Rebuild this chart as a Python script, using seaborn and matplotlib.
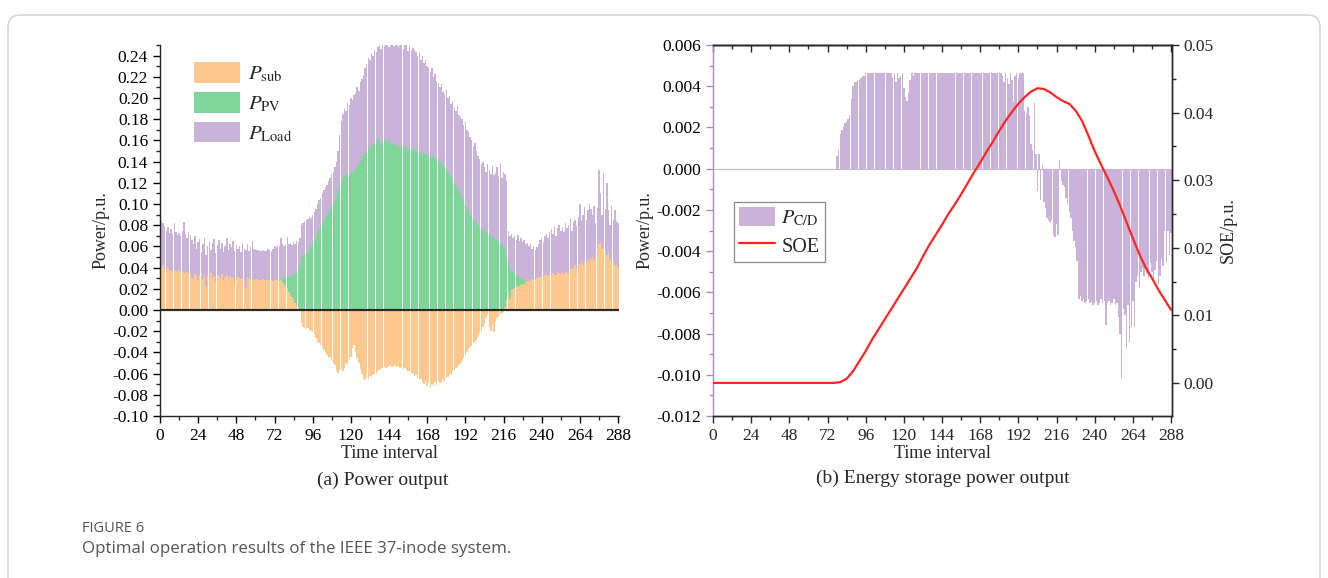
import numpy as np
import pandas as pd
import matplotlib
matplotlib.use("Agg")
import matplotlib.pyplot as plt
import seaborn as sns
from matplotlib.patches import Patch, FancyBboxPatch
from matplotlib.lines import Line2D
from matplotlib.ticker import MultipleLocator, FormatStrFormatter

# ---------------- data ----------------
intervals = list(range(1, 289))

p_load = [
    0.084, 0.082, 0.079, 0.075, 0.078, 0.073, 0.076, 0.072, 0.082, 0.074, 0.071, 0.073,
    0.070, 0.075, 0.083, 0.072, 0.068, 0.074, 0.071, 0.066, 0.062, 0.070, 0.058, 0.064,
    0.067, 0.055, 0.062, 0.068, 0.052, 0.060, 0.065, 0.057, 0.063, 0.067, 0.054, 0.061,
    0.066, 0.058, 0.063, 0.055, 0.060, 0.068, 0.057, 0.062, 0.059, 0.065, 0.056, 0.061,
    0.058, 0.060, 0.055, 0.063, 0.058, 0.057, 0.062, 0.056, 0.059, 0.065, 0.058, 0.057,
    0.057, 0.057, 0.056, 0.056, 0.057, 0.056, 0.056, 0.058, 0.057, 0.056, 0.058, 0.060,
    0.059, 0.061, 0.060, 0.068, 0.062, 0.060, 0.061, 0.069, 0.062, 0.063, 0.061, 0.064,
    0.062, 0.065, 0.064, 0.068, 0.080, 0.082, 0.084, 0.085, 0.086, 0.088, 0.087, 0.090,
    0.092, 0.095, 0.100, 0.104, 0.106, 0.110, 0.113, 0.116, 0.118, 0.122, 0.125, 0.128,
    0.130, 0.135, 0.140, 0.150, 0.165, 0.178, 0.185, 0.190, 0.188, 0.195, 0.193, 0.200,
    0.198, 0.203, 0.205, 0.210, 0.207, 0.215, 0.218, 0.222, 0.228, 0.232, 0.238, 0.236,
    0.242, 0.240, 0.245, 0.243, 0.248, 0.250, 0.246, 0.250, 0.249, 0.250, 0.250, 0.248,
    0.250, 0.250, 0.249, 0.250, 0.250, 0.248, 0.250, 0.250, 0.246, 0.250, 0.250, 0.244,
    0.250, 0.245, 0.247, 0.245, 0.243, 0.240, 0.242, 0.236, 0.240, 0.233, 0.236, 0.230,
    0.228, 0.225, 0.228, 0.220, 0.223, 0.216, 0.214, 0.210, 0.213, 0.206, 0.204, 0.208,
    0.200, 0.202, 0.194, 0.197, 0.191, 0.188, 0.192, 0.184, 0.182, 0.180, 0.175, 0.177,
    0.170, 0.168, 0.163, 0.160, 0.155, 0.158, 0.150, 0.145, 0.142, 0.138, 0.140, 0.135,
    0.130, 0.138, 0.132, 0.128, 0.136, 0.127, 0.129, 0.135, 0.126, 0.138, 0.125, 0.130,
    0.128, 0.122, 0.075, 0.070, 0.072, 0.068, 0.070, 0.066, 0.071, 0.065, 0.068, 0.064,
    0.066, 0.062, 0.063, 0.060, 0.062, 0.058, 0.060, 0.057, 0.059, 0.062, 0.066, 0.068,
    0.064, 0.070, 0.072, 0.068, 0.074, 0.076, 0.072, 0.078, 0.070, 0.077, 0.080, 0.075,
    0.078, 0.074, 0.082, 0.077, 0.080, 0.087, 0.075, 0.083, 0.085, 0.079, 0.088, 0.100,
    0.084, 0.090, 0.097, 0.085, 0.094, 0.100, 0.095, 0.090, 0.098, 0.082, 0.096, 0.132,
    0.110, 0.090, 0.129, 0.095, 0.120, 0.094, 0.080, 0.098, 0.085, 0.094, 0.084, 0.082,
]

p_pv = [0.0] * 70 + [
    0.008, 0.014, 0.020, 0.025,
    0.028, 0.030, 0.029, 0.031, 0.030, 0.032, 0.031, 0.033, 0.032, 0.034, 0.035, 0.036,
    0.038, 0.042, 0.050, 0.052, 0.053, 0.054, 0.055, 0.058, 0.060, 0.064, 0.066, 0.070,
    0.073, 0.076, 0.079, 0.082, 0.085, 0.088, 0.090, 0.093, 0.095, 0.098, 0.100, 0.103,
    0.108, 0.113, 0.118, 0.122, 0.125, 0.126, 0.127, 0.128, 0.126, 0.129, 0.128, 0.131,
    0.133, 0.136, 0.138, 0.140, 0.143, 0.146, 0.148, 0.150, 0.152, 0.154, 0.156, 0.157,
    0.158, 0.160, 0.162, 0.158, 0.156, 0.160, 0.161, 0.159, 0.158, 0.160, 0.158, 0.157,
    0.156, 0.157, 0.155, 0.156, 0.154, 0.155, 0.153, 0.155, 0.154, 0.152, 0.153, 0.151,
    0.152, 0.150, 0.151, 0.149, 0.150, 0.148, 0.149, 0.147, 0.146, 0.147, 0.145, 0.146,
    0.144, 0.145, 0.143, 0.142, 0.140, 0.141, 0.138, 0.137, 0.135, 0.133, 0.130, 0.128,
    0.126, 0.122, 0.120, 0.118, 0.115, 0.112, 0.110, 0.106, 0.104, 0.100, 0.097, 0.094,
    0.090, 0.088, 0.086, 0.084, 0.082, 0.080, 0.078, 0.077, 0.076, 0.075, 0.074, 0.073,
    0.072, 0.070, 0.069, 0.068, 0.067, 0.066, 0.064, 0.063, 0.062, 0.060, 0.058, 0.050,
    0.045, 0.040, 0.038, 0.036, 0.035, 0.033, 0.032, 0.031, 0.030, 0.029, 0.028, 0.027,
    0.026, 0.024, 0.020, 0.015, 0.010, 0.005,
] + [0.0] * 52

p_sub = [
    0.040, 0.042, 0.039, 0.038, 0.040, 0.037, 0.038, 0.036, 0.039, 0.037, 0.036, 0.038,
    0.036, 0.037, 0.035, 0.037, 0.036, 0.034, 0.035, 0.030, 0.027, 0.034, 0.032, 0.028,
    0.033, 0.035, 0.029, 0.034, 0.022, 0.033, 0.031, 0.035, 0.030, 0.032, 0.026, 0.033,
    0.032, 0.030, 0.034, 0.027, 0.031, 0.033, 0.029, 0.032, 0.030, 0.031, 0.024, 0.031,
    0.031, 0.030, 0.029, 0.030, 0.030, 0.021, 0.031, 0.029, 0.030, 0.029, 0.029, 0.028,
    0.029, 0.028, 0.028, 0.028, 0.029, 0.028, 0.028, 0.028, 0.028, 0.028, 0.027, 0.028,
    0.028, 0.028, 0.027, 0.028, 0.026, 0.025, 0.023, 0.020, 0.017, 0.014, 0.012, 0.009,
    0.007, 0.005, 0.003, 0.001, -0.012, -0.016, -0.017, -0.018, -0.017, -0.019, -0.020, -0.021,
    -0.023, -0.026, -0.030, -0.031, -0.033, -0.036, -0.038, -0.040, -0.042, -0.045, -0.044, -0.048,
    -0.050, -0.052, -0.058, -0.059, -0.057, -0.056, -0.058, -0.055, -0.050, -0.052, -0.047, -0.044,
    -0.036, -0.033, -0.040, -0.045, -0.050, -0.056, -0.060, -0.064, -0.066, -0.063, -0.065, -0.062,
    -0.063, -0.061, -0.060, -0.060, -0.058, -0.057, -0.056, -0.055, -0.054, -0.055, -0.054, -0.053,
    -0.052, -0.054, -0.053, -0.052, -0.054, -0.053, -0.055, -0.054, -0.056, -0.055, -0.057, -0.058,
    -0.058, -0.060, -0.059, -0.062, -0.061, -0.064, -0.066, -0.065, -0.068, -0.070, -0.067, -0.072,
    -0.069, -0.074, -0.070, -0.072, -0.068, -0.071, -0.067, -0.069, -0.068, -0.066, -0.067, -0.064,
    -0.063, -0.061, -0.060, -0.058, -0.057, -0.055, -0.054, -0.052, -0.050, -0.048, -0.045, -0.042,
    -0.040, -0.037, -0.035, -0.034, -0.031, -0.030, -0.028, -0.025, -0.022, -0.020, -0.016, -0.012,
    -0.008, -0.005, -0.016, -0.020, -0.014, -0.021, -0.011, -0.008, -0.006, -0.004, -0.003, -0.002,
    0.003, 0.009, 0.017, 0.010, 0.019, 0.020, 0.021, 0.022, 0.023, 0.023, 0.024, 0.025,
    0.025, 0.026, 0.027, 0.027, 0.028, 0.029, 0.029, 0.030, 0.030, 0.031, 0.031, 0.032,
    0.032, 0.033, 0.033, 0.032, 0.034, 0.033, 0.035, 0.034, 0.033, 0.036, 0.035, 0.034,
    0.036, 0.034, 0.037, 0.035, 0.034, 0.038, 0.040, 0.039, 0.042, 0.040, 0.041, 0.043,
    0.045, 0.042, 0.046, 0.044, 0.047, 0.045, 0.048, 0.050, 0.047, 0.053, 0.058, 0.062,
    0.064, 0.058, 0.062, 0.056, 0.052, 0.055, 0.048, 0.045, 0.047, 0.042, 0.044, 0.040,
]

p_cd = [0.0] * 77 + [
    0.0006, 0.0009, 0.0017, 0.0019, 0.0020, 0.0022, 0.0023, 0.0024, 0.0026, 0.0034,
    0.0040, 0.0042, 0.0042, 0.0043, 0.0043, 0.0044, 0.0045, 0.0045, 0.00466,
] + [0.00466] * 16 + [
    0.0044, 0.00466, 0.0042, 0.00466, 0.0044, 0.0045, 0.00466, 0.0039, 0.0035, 0.0033,
    0.0037, 0.0043, 0.00466, 0.0045, 0.00466,
] + [0.00466] * 54 + [
    0.0045, 0.0042, 0.00466, 0.0044, 0.0041, 0.00466, 0.0043, 0.00325, 0.0045, 0.00466,
    0.0044, 0.00466, 0.0046, 0.00466, 0.0028,
    0.0027, 0.0030, 0.0026, 0.0012, 0.0009, 0.0032, 0.0007, -0.0011,
    0.0007, -0.0015, 0.0002, -0.0016, -0.0019, -0.0024, -0.0025, -0.0026, -0.0025, -0.0032,
    -0.0033, -0.0027, -0.0032, 0.0004, -0.0006,
    -0.0008, -0.0009, -0.0014, -0.0017, -0.0021, -0.0024, -0.0030, -0.0035, -0.0038, -0.0045, -0.0063,
    -0.0062, -0.0064, -0.0063, -0.0065, -0.0064, -0.0063, -0.0065, -0.0064, -0.0066, -0.0065,
    -0.0064, -0.0066, -0.0065, -0.0063, -0.0065, -0.0064,
    -0.0076, -0.0065, -0.0064, -0.0066, -0.0065, -0.0063, -0.0066, -0.0065, -0.0072, -0.0080,
    -0.0102, -0.0068,
    -0.0071, -0.0087, -0.0066, -0.0084, -0.0077, -0.0064, -0.0077, -0.0055, -0.0052, -0.0058,
    -0.0050, -0.0048,
    -0.0052, -0.0047, -0.0051, -0.0053, -0.0046, -0.0050, -0.0054, -0.0049, -0.0045, -0.0056,
    -0.0052, -0.0044, -0.0047, -0.0030, -0.0046, -0.0030, -0.0042, -0.0031,
]

soe_t = list(range(0, 289, 4))
soe = [0.0] * 20 + [
    0.0001, 0.0006, 0.0017, 0.0032, 0.0047, 0.0064, 0.0079, 0.0094, 0.0109, 0.0124,
    0.0139, 0.0154, 0.0169, 0.0187, 0.0204, 0.0219, 0.0234, 0.0250, 0.0264, 0.0279,
    0.0295, 0.0311, 0.0326, 0.0342, 0.0357, 0.0373, 0.0388, 0.0401, 0.0413, 0.0423,
    0.0431, 0.0436, 0.0435, 0.0430, 0.0423, 0.0417, 0.0413, 0.0403, 0.0388, 0.0366,
    0.0343, 0.0323, 0.0304, 0.0284, 0.0262, 0.0238, 0.0214, 0.0191, 0.0171, 0.0155,
    0.0138, 0.0123, 0.0108,
]

x_ticks = [0, 24, 48, 72, 96, 120, 144, 168, 192, 216, 240, 264, 288]

assert len(p_load) == 288 and len(p_pv) == 288 and len(p_sub) == 288 and len(p_cd) == 288
assert len(soe) == len(soe_t)

# ---------------- style ----------------
sns.set_style("ticks")
plt.rcParams['font.family'] = ['Liberation Serif', 'DejaVu Serif']
plt.rcParams['mathtext.fontset'] = 'stix'
plt.rcParams['axes.unicode_minus'] = False
plt.rcParams['axes.linewidth'] = 1.0

C_SUB = '#fec98f'
C_PV = '#7fd69b'
C_LOAD = '#c9b3d9'
C_CD = '#c9b3d9'
C_SOE = '#ff2424'
TICK_FS = 12.5
LAB_FS = 13
SUB_FS = 14

df1 = pd.DataFrame({'t': intervals, 'load': p_load, 'pv': p_pv, 'sub': p_sub, 'cd': p_cd})
df_soe = pd.DataFrame({'t': soe_t, 'soe': soe})

fig = plt.figure(figsize=(13.28, 5.78), dpi=100)

# outer rounded frame
fig.patches.append(FancyBboxPatch((0.08, -0.3), 13.12, 5.93,
                                  boxstyle="round,pad=0,rounding_size=0.12",
                                  transform=fig.dpi_scale_trans, fill=False,
                                  edgecolor='#cfcfcf', linewidth=1.0))

ax1 = fig.add_axes([160 / 1328, 162 / 578, 459 / 1328, 371 / 578])
ax2 = fig.add_axes([713 / 1328, 162 / 578, 459 / 1328, 371 / 578])

# ---------------- panel (a) ----------------
for col, c in [('load', C_LOAD), ('pv', C_PV), ('sub', C_SUB)]:
    sns.barplot(data=df1, x='t', y=col, native_scale=True, color=c, saturation=1,
                width=0.9, errorbar=None, linewidth=0, ax=ax1)
ax1.axhline(0, color='#2a2a2a', lw=1.6, zorder=5)
ax1.set_xlim(0, 288.6)
ax1.set_ylim(-0.10, 0.25)
ax1.set_xticks(x_ticks)
ax1.xaxis.set_minor_locator(MultipleLocator(12))
ax1.yaxis.set_major_locator(MultipleLocator(0.02))
ax1.yaxis.set_minor_locator(MultipleLocator(0.01))
ax1.yaxis.set_major_formatter(FormatStrFormatter('%.2f'))
ax1.set_yticks(np.round(np.arange(-0.10, 0.2401, 0.02), 2))
ax1.tick_params(which='major', direction='out', length=5, width=1, labelsize=TICK_FS, colors='black')
ax1.tick_params(which='minor', direction='out', length=3, width=1)
for s in ['top', 'right']:
    ax1.spines[s].set_visible(False)
ax1.set_xlabel('Time interval', fontsize=LAB_FS, labelpad=1)
ax1.set_ylabel('Power/p.u.', fontsize=LAB_FS, labelpad=2)

h1 = [Patch(facecolor=C_SUB, edgecolor='none'),
      Patch(facecolor=C_PV, edgecolor='none'),
      Patch(facecolor=C_LOAD, edgecolor='none')]
l1 = [r'$P_{\mathrm{sub}}$', r'$P_{\mathrm{PV}}$', r'$P_{\mathrm{Load}}$']
ax1.legend(h1, l1, loc='upper left', bbox_to_anchor=(0.066, 0.965), frameon=False,
           fontsize=15, handlelength=2.2, handleheight=1.15, labelspacing=0.35,
           handletextpad=0.35, borderpad=0.2, borderaxespad=0)

# ---------------- panel (b) ----------------
sns.barplot(data=df1, x='t', y='cd', native_scale=True, color=C_CD, saturation=1,
            width=0.9, errorbar=None, linewidth=0, ax=ax2)
ax2.axhline(0, color='#bdbdbd', lw=0.8, zorder=0.5)
ax2.set_xlim(0, 288.6)
ax2.set_ylim(-0.012, 0.006)
ax2.set_xticks(x_ticks)
ax2.xaxis.set_minor_locator(MultipleLocator(12))
ax2.yaxis.set_major_locator(MultipleLocator(0.002))
ax2.yaxis.set_minor_locator(MultipleLocator(0.001))
ax2.yaxis.set_major_formatter(FormatStrFormatter('%.3f'))
ax2.tick_params(which='major', direction='out', length=5, width=1, labelsize=TICK_FS)
ax2.tick_params(which='minor', direction='out', length=3, width=1)
ax2.tick_params(axis='y', which='both', color='#a58cc2', labelcolor='black')
ax2.spines['left'].set_color('#a58cc2')
ax2.set_xlabel('Time interval', fontsize=LAB_FS, labelpad=1)
ax2.set_ylabel('Power/p.u.', fontsize=LAB_FS, labelpad=2)

top = ax2.secondary_xaxis('top')
top.set_xticks(x_ticks)
top.xaxis.set_minor_locator(MultipleLocator(12))
top.tick_params(which='major', direction='in', length=5, width=1, labeltop=False)
top.tick_params(which='minor', direction='in', length=3, width=1)
top.set_xticklabels([])

ax3 = ax2.twinx()
sns.lineplot(data=df_soe, x='t', y='soe', color=C_SOE, lw=1.6, ax=ax3)
ax3.set_ylim(-0.0049, 0.05)
ax3.set_xlim(0, 288.6)
ax3.yaxis.set_major_locator(MultipleLocator(0.01))
ax3.yaxis.set_minor_locator(MultipleLocator(0.005))
ax3.yaxis.set_major_formatter(FormatStrFormatter('%.2f'))
ax3.tick_params(which='major', direction='out', length=5, width=1, labelsize=TICK_FS)
ax3.tick_params(which='minor', direction='out', length=3, width=1)
ax3.spines['left'].set_visible(False)
ax3.set_ylabel('SOE/p.u.', fontsize=LAB_FS, labelpad=4)
ax3.set_xlabel('')

h2 = [Patch(facecolor=C_CD, edgecolor='none'), Line2D([0], [0], color=C_SOE, lw=1.6)]
l2 = [r'$P_{\mathrm{C/D}}$', 'SOE']
leg = ax3.legend(h2, l2, loc='upper left', bbox_to_anchor=(0.046, 0.578), frameon=True,
                 fancybox=False, edgecolor='#8a8a8a', framealpha=1, fontsize=14.5,
                 handlelength=1.8, handleheight=1.1, labelspacing=0.35,
                 handletextpad=0.3, borderpad=0.25, borderaxespad=0)
leg.get_frame().set_linewidth(0.9)

# ---------------- sub-captions & figure caption ----------------
fig.text(383 / 1328, 1 - 480 / 578, '(a) Power output', ha='center', va='center', fontsize=SUB_FS)
fig.text(943 / 1328, 1 - 478 / 578, '(b) Energy storage power output', ha='center', va='center',
         fontsize=SUB_FS)
fig.text(82 / 1328, 1 - 528 / 578, 'FIGURE 6', ha='left', va='center', fontsize=10.5,
         family=['Open Sans', 'DejaVu Sans'], color='#555555')
fig.text(82 / 1328, 1 - 549 / 578, 'Optimal operation results of the IEEE 37-inode system.',
         ha='left', va='center', fontsize=12.2, family=['Open Sans', 'DejaVu Sans'], color='#555555')

fig.savefig('out.png', dpi=100)
